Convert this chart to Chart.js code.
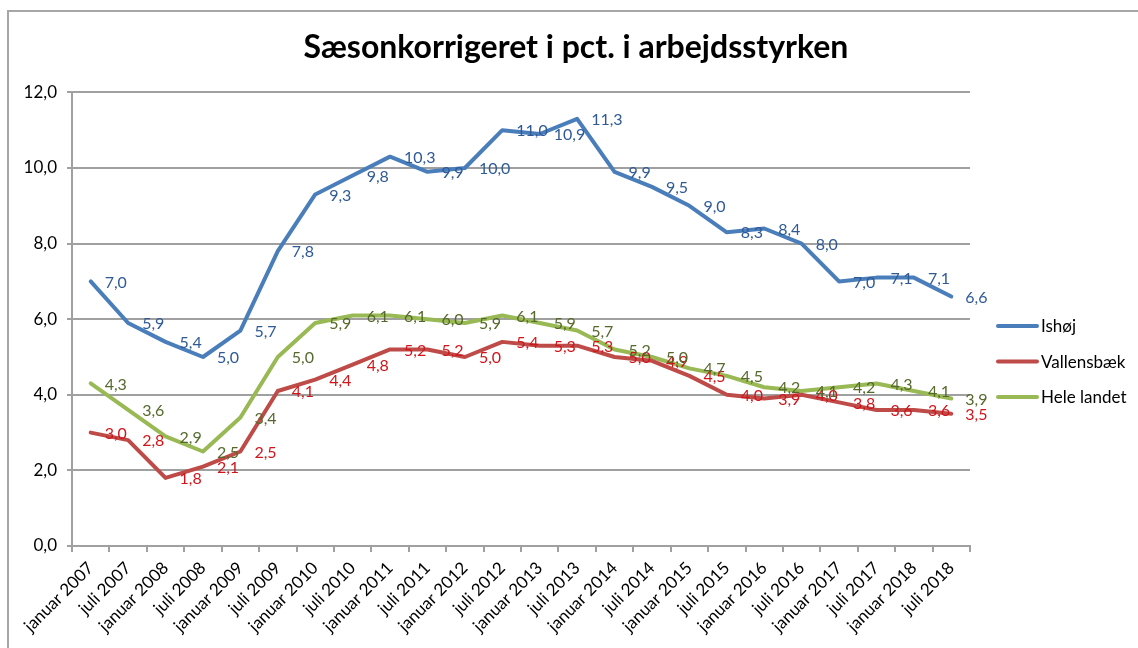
<!DOCTYPE html>
<html lang="da">
<head>
<meta charset="utf-8">
<title>Sæsonkorrigeret ledighed</title>
<script src="https://cdn.jsdelivr.net/npm/chart.js@4.4.0/dist/chart.umd.min.js"></script>
<style>
  html, body { margin: 0; padding: 0; background: #fff; overflow: hidden; width: 1138px; height: 648px; }
  #ramme { position: absolute; left: 7px; top: 10px; width: 1200px; height: 700px;
           border-style: solid; border-color: #a6a6a6; border-width: 2px 0 0 2px; }
  #wrap { position: absolute; left: 0; top: 0; width: 1138px; height: 648px; }
</style>
</head>
<body>
<div id="ramme"></div>
<div id="wrap"><canvas id="myChart" width="1138" height="648"></canvas></div>
<script>
// Kategorier (halvår)
const kategorier = [
  'januar 2007', 'juli 2007', 'januar 2008', 'juli 2008', 'januar 2009', 'juli 2009',
  'januar 2010', 'juli 2010', 'januar 2011', 'juli 2011', 'januar 2012', 'juli 2012',
  'januar 2013', 'juli 2013', 'januar 2014', 'juli 2014', 'januar 2015', 'juli 2015',
  'januar 2016', 'juli 2016', 'januar 2017', 'juli 2017', 'januar 2018', 'juli 2018'
];

// Ledighed i pct. af arbejdsstyrken
const ishoej = [7.0, 5.9, 5.4, 5.0, 5.7, 7.8, 9.3, 9.8, 10.3, 9.9, 10.0, 11.0,
                10.9, 11.3, 9.9, 9.5, 9.0, 8.3, 8.4, 8.0, 7.0, 7.1, 7.1, 6.6];
const vallensbaek = [3.0, 2.8, 1.8, 2.1, 2.5, 4.1, 4.4, 4.8, 5.2, 5.2, 5.0, 5.4,
                     5.3, 5.3, 5.0, 4.9, 4.5, 4.0, 3.9, 4.0, 3.8, 3.6, 3.6, 3.5];
const heleLandet = [4.3, 3.6, 2.9, 2.5, 3.4, 5.0, 5.9, 6.1, 6.1, 6.0, 5.9, 6.1,
                    5.9, 5.7, 5.2, 5.0, 4.7, 4.5, 4.2, 4.1, 4.2, 4.3, 4.1, 3.9];

// y-aksens værdier
const yMin = 0;
const yMax = 12;
const yStep = 2;

const skrift = 'Lato, "Open Sans", sans-serif';
const gitterFarve = '#a0a0a0';

function formatTal(v) {
  return v.toFixed(1).replace('.', ',');
}

// dataetiketter til højre for hvert punkt
const etiketPlugin = {
  id: 'etiketter',
  afterDatasetsDraw(chart) {
    const ctx = chart.ctx;
    ctx.save();
    ctx.font = '16px ' + skrift;
    ctx.textAlign = 'left';
    ctx.textBaseline = 'middle';
    chart.data.datasets.forEach((ds, i) => {
      const meta = chart.getDatasetMeta(i);
      ctx.fillStyle = ds.etiketFarve;
      meta.data.forEach((pt, j) => {
        ctx.fillText(formatTal(ds.data[j]), pt.x + 14, pt.y + 1);
      });
    });
    ctx.restore();
  }
};

// forklaring til højre (som i Excel)
const legendePlugin = {
  id: 'legende',
  afterDraw(chart) {
    const ctx = chart.ctx;
    const x0 = 998;
    const y0 = 326;
    const afstand = 35.5;
    ctx.save();
    ctx.font = '17px ' + skrift;
    ctx.textAlign = 'left';
    ctx.textBaseline = 'middle';
    chart.data.datasets.forEach((ds, i) => {
      const y = y0 + i * afstand;
      ctx.strokeStyle = ds.borderColor;
      ctx.lineWidth = 4;
      ctx.lineCap = 'round';
      ctx.beginPath();
      ctx.moveTo(x0, y);
      ctx.lineTo(x0 + 39, y);
      ctx.stroke();
      ctx.fillStyle = '#000';
      ctx.fillText(ds.label, x0 + 43, y + 1);
    });
    ctx.restore();
  }
};

const ctx = document.getElementById('myChart').getContext('2d');

new Chart(ctx, {
  type: 'line',
  data: {
    labels: kategorier,
    datasets: [
      { label: 'Ishøj', data: ishoej, borderColor: '#4a7ebb', etiketFarve: '#2f5a96' },
      { label: 'Vallensbæk', data: vallensbaek, borderColor: '#be4b48', etiketFarve: '#d0161b' },
      { label: 'Hele landet', data: heleLandet, borderColor: '#98b954', etiketFarve: '#55692c' }
    ]
  },
  options: {
    responsive: false,
    animation: false,
    layout: { padding: { left: 14, right: 0, top: 0, bottom: 0 } },
    elements: {
      line: { borderWidth: 4, tension: 0, borderCapStyle: 'round', borderJoinStyle: 'round' },
      point: { radius: 0, hoverRadius: 0 }
    },
    plugins: {
      legend: { display: false },
      tooltip: { enabled: false },
      title: {
        display: true,
        text: 'Sæsonkorrigeret i pct. i arbejdsstyrken',
        color: '#000',
        font: { family: skrift, size: 32, weight: 'bold' },
        padding: { top: 28, bottom: 26 }
      }
    },
    scales: {
      x: {
        offset: true,
        grid: { display: true, drawOnChartArea: false, offset: true, tickLength: 6, color: gitterFarve, lineWidth: 2 },
        border: { display: true, color: gitterFarve, width: 2 },
        ticks: {
          color: '#000',
          font: { family: skrift, size: 17 },
          autoSkip: false,
          maxRotation: 45,
          minRotation: 45,
          padding: 6
        },
        afterFit(scale) { scale.height = 102; }
      },
      y: {
        min: yMin,
        max: yMax,
        grid: { color: gitterFarve, lineWidth: 2, tickLength: 5 },
        border: { display: true, color: gitterFarve, width: 2 },
        ticks: {
          stepSize: yStep,
          color: '#000',
          font: { family: skrift, size: 17 },
          padding: 10,
          callback: v => formatTal(v)
        },
        afterFit(scale) { scale.width = 58; }
      },
      // tom akse der giver plads til forklaringen til højre
      plads: {
        type: 'linear',
        position: 'right',
        grid: { display: false },
        border: { display: false },
        ticks: { display: false },
        afterFit(scale) { scale.width = 168; }
      }
    }
  },
  plugins: [etiketPlugin, legendePlugin]
});
</script>
</body>
</html>
